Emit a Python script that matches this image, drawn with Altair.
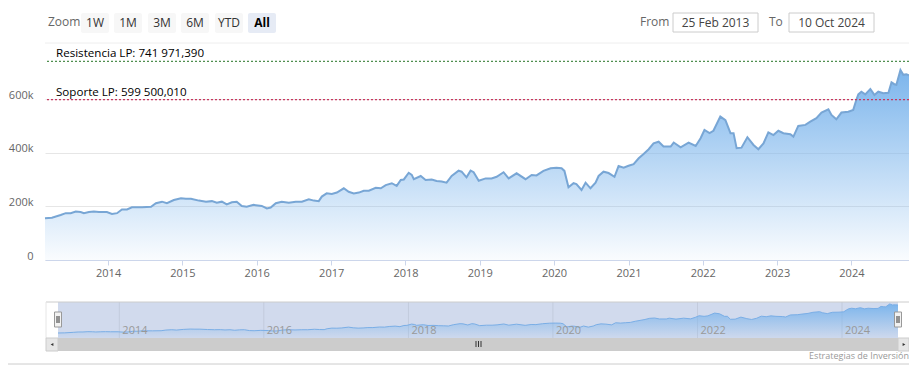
import altair as alt
import pandas as pd

# ---------------- data ----------------
dates = [
    "2013-02-25", "2013-03-31", "2013-05-13", "2013-06-07", "2013-07-01", "2013-07-26", "2013-08-19",
    "2013-09-04", "2013-09-29", "2013-10-23", "2013-11-17", "2013-12-26", "2014-01-20", "2014-02-14",
    "2014-03-10", "2014-04-04", "2014-04-28", "2014-06-17", "2014-07-31", "2014-08-24", "2014-09-23",
    "2014-10-17", "2014-11-20", "2014-12-25", "2015-01-18", "2015-02-12", "2015-03-23", "2015-04-27",
    "2015-05-26", "2015-06-19", "2015-07-14", "2015-08-07", "2015-09-01", "2015-09-25", "2015-10-20",
    "2015-11-13", "2015-12-17", "2016-01-26", "2016-02-20", "2016-03-10", "2016-04-04", "2016-05-03",
    "2016-06-07", "2016-07-11", "2016-08-10", "2016-09-13", "2016-10-08", "2016-11-01", "2016-11-16",
    "2016-12-10", "2017-01-04", "2017-01-29", "2017-03-04", "2017-03-28", "2017-04-22", "2017-05-17",
    "2017-06-10", "2017-07-05", "2017-08-08", "2017-09-02", "2017-09-26", "2017-10-26", "2017-11-19",
    "2017-12-09", "2017-12-24", "2018-01-17", "2018-02-01", "2018-02-11", "2018-03-17", "2018-04-10",
    "2018-05-10", "2018-06-03", "2018-06-28", "2018-07-22", "2018-08-16", "2018-09-19", "2018-10-04",
    "2018-10-28", "2018-11-17", "2018-12-02", "2018-12-27", "2019-01-30", "2019-02-28", "2019-03-25",
    "2019-04-28", "2019-05-23", "2019-07-01", "2019-08-14", "2019-09-13", "2019-10-07", "2019-11-10",
    "2019-12-15", "2020-01-13", "2020-02-07", "2020-02-21", "2020-03-12", "2020-04-06", "2020-04-20",
    "2020-05-15", "2020-06-04", "2020-06-28", "2020-07-23", "2020-08-07", "2020-08-31", "2020-09-25",
    "2020-10-24", "2020-11-13", "2020-12-08", "2021-01-01", "2021-01-26", "2021-02-20", "2021-03-16",
    "2021-04-10", "2021-05-04", "2021-05-29", "2021-06-22", "2021-07-27", "2021-08-11", "2021-09-14",
    "2021-10-23", "2021-11-27", "2021-12-21", "2022-01-09", "2022-02-03", "2022-02-22", "2022-03-28",
    "2022-04-22", "2022-05-17", "2022-06-01", "2022-06-16", "2022-07-10", "2022-08-08", "2022-09-07",
    "2022-10-01", "2022-10-26", "2022-11-19", "2022-12-14", "2023-01-07", "2023-02-01", "2023-03-07",
    "2023-03-22", "2023-04-15", "2023-05-20", "2023-06-13", "2023-07-13", "2023-08-07", "2023-09-10",
    "2023-09-25", "2023-10-19", "2023-11-13", "2023-12-17", "2024-01-10", "2024-01-25", "2024-02-04",
    "2024-02-19", "2024-03-09", "2024-04-03", "2024-04-23", "2024-05-12", "2024-06-06", "2024-07-01",
    "2024-07-16", "2024-07-30", "2024-08-09", "2024-08-29", "2024-09-12", "2024-09-27", "2024-10-10",
]
values = [
    156000, 158000, 168000, 175000, 175000, 181000, 179000,
    175000, 179000, 181000, 179000, 179000, 172000, 175000,
    189000, 189000, 197000, 197000, 199000, 212000, 218000,
    212000, 224000, 231000, 229000, 229000, 222000, 218000,
    220000, 214000, 218000, 208000, 216000, 218000, 202000,
    199000, 206000, 202000, 193000, 196000, 212000, 218000,
    214000, 218000, 218000, 227000, 222000, 220000, 237000,
    249000, 247000, 252000, 268000, 255000, 249000, 252000,
    259000, 259000, 270000, 268000, 280000, 287000, 277000,
    299000, 301000, 326000, 318000, 302000, 314000, 299000,
    301000, 295000, 293000, 289000, 314000, 334000, 330000,
    309000, 334000, 328000, 296000, 305000, 305000, 311000,
    328000, 305000, 324000, 302000, 318000, 316000, 333000,
    343000, 345000, 343000, 333000, 272000, 287000, 284000,
    262000, 289000, 268000, 289000, 314000, 330000, 325000,
    311000, 351000, 345000, 352000, 358000, 380000, 396000,
    414000, 436000, 442000, 424000, 424000, 439000, 421000,
    439000, 426000, 455000, 486000, 474000, 483000, 536000,
    523000, 474000, 474000, 418000, 420000, 459000, 430000,
    414000, 436000, 477000, 467000, 483000, 474000, 470000,
    461000, 501000, 505000, 517000, 530000, 551000, 563000,
    542000, 526000, 551000, 554000, 561000, 598000, 619000,
    629000, 619000, 639000, 617000, 629000, 623000, 625000,
    664000, 657000, 655000, 710000, 692000, 694000, 690000,
]

resistance_value = 741971.390
support_value = 599500.010
resistance_label = "Resistencia LP: 741 971,390"
support_label = "Soporte LP: 599 500,010"

y_ticks = [0, 200000, 400000, 600000]
x_years = list(range(2014, 2025))
nav_years = ["2014-01-01", "2016-01-01", "2018-01-01", "2020-01-01", "2022-01-01", "2024-01-01"]
nav_year_labels = ["2014", "2016", "2018", "2020", "2022", "2024"]
range_buttons = ["1W", "1M", "3M", "6M", "YTD", "All"]
date_from = "25 Feb 2013"
date_to = "10 Oct 2024"
credit = "Estrategias de Inversión"

# ---------------- styling ----------------
FONT = "Open Sans"
W, H = 864, 217
one = pd.DataFrame({"k": [0]})
df = pd.DataFrame({"date": dates, "value": values})

x_dom = [alt.DateTime(year=2013, month=2, date=25, utc=True),
         alt.DateTime(year=2024, month=10, date=10, utc=True)]

grad = alt.Gradient(
    gradient="linear",
    stops=[alt.GradientStop(color="#7cb5ec", offset=0),
           alt.GradientStop(color="rgba(124,181,236,0.04)", offset=1)],
    x1=1, x2=1, y1=0, y2=1,
)

x_main = alt.X(
    "date:T",
    scale=alt.Scale(type="utc", domain=x_dom),
    axis=alt.Axis(
        values=[alt.DateTime(year=y, month=1, date=1, utc=True) for y in x_years],
        format="%Y", title=None, grid=False, labelFlush=False,
        labelFont=FONT, labelFontSize=11, labelColor="#666666",
        domainColor="#ccd6eb", tickColor="#ccd6eb", tickSize=5, labelPadding=2,
    ),
)
y_main = alt.Y(
    "value:Q",
    scale=alt.Scale(domain=[0, 811000], nice=False, zero=True),
    axis=alt.Axis(
        values=y_ticks, title=None, domain=False, ticks=False, tickSize=0,
        labelExpr="datum.value == 0 ? '0' : (datum.value / 1000) + 'k'",
        labelFont=FONT, labelFontSize=11, labelColor="#666666",
        labelPadding=12, labelBaseline="alphabetic", labelOffset=-1,
        gridColor="#e6e6e6",
    ),
)

area = alt.Chart(df).mark_area(color=grad).encode(x=x_main, y=y_main)
line = alt.Chart(df).mark_line(color="#78a6d5", strokeWidth=2).encode(x="date:T", y="value:Q")

res_rule = alt.Chart(one).mark_rule(color="#4f8f4f", strokeDash=[2, 2], strokeWidth=1.2).encode(
    y=alt.datum(resistance_value))
sup_rule = alt.Chart(one).mark_rule(color="#c8365e", strokeDash=[2, 2], strokeWidth=1.2).encode(
    y=alt.datum(support_value))
res_text = alt.Chart(one).mark_text(text=resistance_label, font=FONT, fontSize=11.6, color="#000000",
                                    align="left", baseline="alphabetic", dy=-4).encode(
    x=alt.value(11), y=alt.datum(resistance_value))
sup_text = alt.Chart(one).mark_text(text=support_label, font=FONT, fontSize=11.6, color="#000000",
                                    align="left", baseline="alphabetic", dy=-4).encode(
    x=alt.value(11), y=alt.datum(support_value))

main = alt.layer(area, line, res_rule, sup_rule, res_text, sup_text)

# ---------------- navigator ----------------
NAV_L, NAV_R, NAV_T, NAV_B = 13, 853, 259, 295
nav_x = alt.Scale(type="utc", domain=x_dom, range=[NAV_L, NAV_R])
nav_y = alt.Scale(domain=[60000, 748000], range=[NAV_B, NAV_T], zero=False, nice=False)
nav_df = pd.DataFrame({"d": nav_years, "lab": nav_year_labels})


def rect(x, x2, y, y2, fill, stroke=None, sw=1, rad=0):
    kw = dict(fill=fill)
    if stroke:
        kw.update(stroke=stroke, strokeWidth=sw)
    if rad:
        kw["cornerRadius"] = rad
    return alt.Chart(one).mark_rect(**kw).encode(
        x=alt.value(x), x2=alt.value(x2), y=alt.value(y), y2=alt.value(y2))


def text(s, x, y, size=11, color="#333333", align="left", weight="normal"):
    return alt.Chart(one).mark_text(text=s, font=FONT, fontSize=size, color=color, align=align,
                                    fontWeight=weight, baseline="middle").encode(
        x=alt.value(x), y=alt.value(y))


def hline(x, x2, y, color, sw=1):
    return alt.Chart(one).mark_rule(color=color, strokeWidth=sw).encode(
        x=alt.value(x), x2=alt.value(x2), y=alt.value(y))


def vline(x, y, y2, color, sw=1):
    return alt.Chart(one).mark_rule(color=color, strokeWidth=sw).encode(
        x=alt.value(x), y=alt.value(y), y2=alt.value(y2))


nav_mask = rect(NAV_L, NAV_R, NAV_T, NAV_B, "rgba(102,133,194,0.3)")
nav_grid = alt.Chart(nav_df).mark_rule(color="rgba(0,0,0,0.07)", strokeWidth=1).encode(
    x=alt.X("d:T", scale=nav_x, axis=None), y=alt.value(NAV_T), y2=alt.value(NAV_B))
nav_area = alt.Chart(df).mark_area(color=grad).encode(
    x=alt.X("date:T", scale=nav_x, axis=None),
    y=alt.Y("value:Q", scale=nav_y, axis=None),
    y2=alt.datum(60000),
)
nav_line = alt.Chart(df).mark_line(color="#7aaee6", strokeWidth=1).encode(
    x=alt.X("date:T", scale=nav_x, axis=None),
    y=alt.Y("value:Q", scale=nav_y, axis=None),
)
nav_labels = alt.Chart(nav_df).mark_text(font=FONT, fontSize=11, color="#999999", align="left",
                                         baseline="middle", dx=3).encode(
    x=alt.X("d:T", scale=nav_x, axis=None), y=alt.value(288), text="lab:N")

nav = alt.layer(nav_mask, nav_grid, nav_area, nav_line, nav_labels)

# ---------------- decorations (range selector, scrollbar, handles) ----------------
decos = []
decos.append(hline(0, W, 0, "#eeeeee"))
decos.append(text("Zoom", 3, -21, size=12, color="#666666"))
for i, b in enumerate(range_buttons):
    x0 = 36 + round(i * 33.4)
    sel = (b == "All")
    decos.append(rect(x0, x0 + 28, -30, -10, "#e6ebf5" if sel else "#f7f7f7", rad=2))
    decos.append(text(b, x0 + 14, -20, size=12, color="#000000" if sel else "#333333",
                      align="center", weight="bold" if sel else "normal"))
decos.append(text("From", 595, -21, size=12, color="#666666"))
decos.append(rect(628, 713, -30, -11, "#ffffff", stroke="#cccccc"))
decos.append(text(date_from, 670.5, -20.5, size=12, color="#444444", align="center"))
decos.append(text("To", 724, -21, size=12, color="#666666"))
decos.append(rect(744, 829, -30, -11, "#ffffff", stroke="#cccccc"))
decos.append(text(date_to, 786.5, -20.5, size=12, color="#444444", align="center"))

# navigator outline
decos.append(hline(1, W, NAV_T, "#cccccc"))
decos.append(vline(1, NAV_T, NAV_B, "#e6e6e6"))
# handles
for hx in (NAV_L, NAV_R):
    decos.append(rect(hx - 3.5, hx + 3.5, 269, 284, "#f2f2f2", stroke="#999999"))
    decos.append(vline(hx - 1, 273, 280, "#333333"))
    decos.append(vline(hx + 1, 273, 280, "#333333"))
# scrollbar
decos.append(rect(1, W, NAV_B, 308, "#f2f2f2"))
decos.append(rect(NAV_L, NAV_R, NAV_B, 308, "#cccccc"))
decos.append(rect(1, NAV_L, NAV_B, 308, "#e6e6e6", stroke="#cccccc"))
decos.append(rect(NAV_R, W, NAV_B, 308, "#e6e6e6", stroke="#cccccc"))
decos.append(alt.Chart(one).mark_point(shape="triangle-left", filled=True, size=10, color="#333333",
                                       opacity=1).encode(x=alt.value(7), y=alt.value(301.5)))
decos.append(alt.Chart(one).mark_point(shape="triangle-right", filled=True, size=10, color="#333333",
                                       opacity=1).encode(x=alt.value(859), y=alt.value(301.5)))
for gx in (431, 433.5, 436):
    decos.append(vline(gx, 298, 304, "#333333"))
# credit and bottom line
decos.append(text(credit, 864, 313, size=9, color="#999999", align="right"))
decos.append(hline(-37, W, 321, "#cccccc"))

chart = (
    alt.layer(main, nav, *decos)
    .resolve_scale(x="independent", y="independent")
    .properties(
        width=W, height=H,
        padding={"left": 37, "top": 35, "right": 0, "bottom": 105},
        autosize=alt.AutoSizeParams(type="none"),
        background="white",
    )
    .configure_view(stroke=None)
)

chart.save("out.html", embed_options={"renderer": "svg", "actions": False})
